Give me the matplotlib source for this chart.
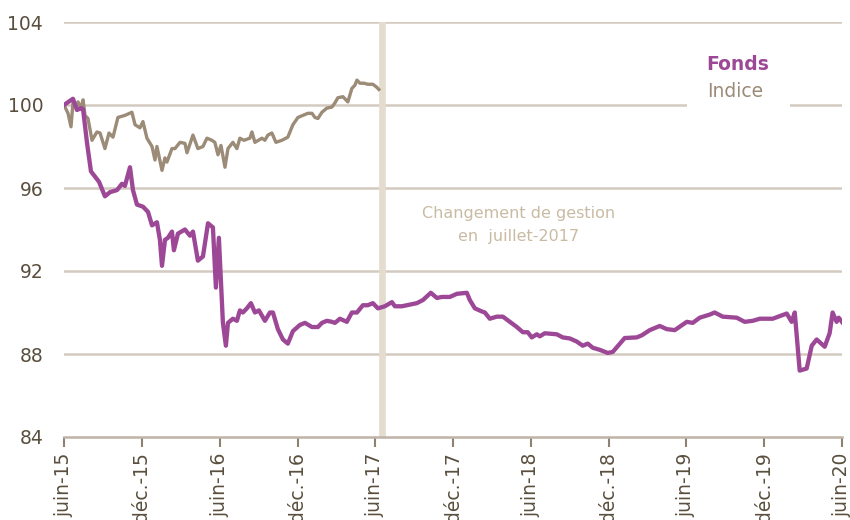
# Fonds vs Indice - base 100 juin 2015

import numpy as np
import matplotlib.pyplot as plt
import pandas as pd
from matplotlib.patches import Rectangle

# data - x in months since juin-15
fonds_m = [0.00, 0.69, 1.00, 1.31, 1.47, 1.77, 2.08, 2.70, 3.16, 3.55,
           4.09, 4.47, 4.70, 5.09, 5.32, 5.63, 6.09, 6.48, 6.79, 7.17,
           7.40, 7.56, 7.79, 8.02, 8.33, 8.48, 8.79, 9.33, 9.72, 9.95,
           10.33, 10.72, 11.11, 11.49, 11.72, 11.95, 12.26, 12.49, 12.65, 13.03,
           13.34, 13.57, 13.80, 14.11, 14.42, 14.73, 15.04, 15.50, 15.89, 16.12,
           16.50, 16.89, 17.27, 17.66, 18.20, 18.59, 19.13, 19.59, 19.90, 20.28,
           20.67, 20.90, 21.29, 21.82, 22.21, 22.60, 23.06, 23.44, 23.83, 24.22,
           24.75, 25.30, 25.53, 26.07, 26.45, 27.22, 27.69, 28.30, 28.77, 29.15,
           29.77, 30.31, 31.08, 31.31, 31.70, 32.24, 32.47, 32.85, 33.39, 33.86,
           34.40, 34.94, 35.40, 35.78, 36.09, 36.48, 36.71, 37.09, 38.02, 38.48,
           39.02, 39.56, 40.02, 40.41, 40.80, 41.34, 41.95, 42.34, 43.26, 44.19,
           44.58, 45.19, 45.96, 46.50, 47.12, 48.05, 48.51, 49.05, 49.82, 50.20,
           50.82, 51.90, 52.52, 53.14, 53.68, 54.68, 55.76, 56.14, 56.38, 56.76,
           57.30, 57.69, 58.07, 58.69, 59.07, 59.30, 59.61, 59.77, 60.08]
fonds = [100.0, 100.3, 99.76, 99.85, 99.8, 98.2, 96.8, 96.3, 95.6, 95.8,
         95.9, 96.2, 96.1, 97.0, 95.9, 95.2, 95.1, 94.85, 94.2, 94.35,
         93.5, 92.25, 93.5, 93.6, 93.9, 93.0, 93.8, 94.0, 93.7, 93.9,
         92.5, 92.7, 94.3, 94.1, 91.2, 93.6, 89.5, 88.4, 89.5, 89.7,
         89.6, 90.1, 90.0, 90.2, 90.45, 90.0, 90.1, 89.6, 90.0, 90.0,
         89.2, 88.7, 88.5, 89.1, 89.4, 89.5, 89.3, 89.3, 89.5, 89.6,
         89.55, 89.5, 89.7, 89.55, 90.0, 90.0, 90.35, 90.35, 90.45, 90.2,
         90.3, 90.5, 90.3, 90.3, 90.35, 90.45, 90.6, 90.95, 90.7, 90.75,
         90.75, 90.9, 90.95, 90.6, 90.2, 90.05, 90.0, 89.7, 89.8, 89.8,
         89.55, 89.3, 89.05, 89.05, 88.8, 88.95, 88.85, 89.0, 88.95, 88.8,
         88.75, 88.6, 88.4, 88.5, 88.3, 88.2, 88.05, 88.1, 88.77, 88.8,
         88.9, 89.15, 89.35, 89.2, 89.15, 89.55, 89.5, 89.75, 89.9, 90.0,
         89.8, 89.75, 89.55, 89.6, 89.7, 89.7, 89.95, 89.55, 90.0, 87.2,
         87.3, 88.4, 88.7, 88.35, 89.0, 90.0, 89.55, 89.75, 89.5]

indice_m = [0.00, 0.31, 0.54, 0.69, 1.00, 1.08, 1.31, 1.47, 1.62, 1.85,
            2.16, 2.54, 2.78, 3.16, 3.47, 3.78, 4.16, 4.70, 5.24, 5.48,
            5.86, 6.09, 6.40, 6.79, 7.02, 7.17, 7.56, 7.79, 7.94, 8.33,
            8.56, 8.95, 9.33, 9.49, 9.95, 10.33, 10.72, 11.03, 11.41, 11.64,
            11.88, 12.11, 12.42, 12.65, 13.03, 13.34, 13.57, 13.88, 14.34, 14.50,
            14.73, 15.27, 15.50, 15.73, 16.04, 16.35, 16.81, 17.27, 17.66, 18.05,
            18.43, 18.82, 19.13, 19.36, 19.59, 19.90, 20.28, 20.67, 20.90, 21.13,
            21.52, 21.90, 22.21, 22.44, 22.60, 22.83, 23.14, 23.44, 23.83, 24.14,
            24.29]
indice = [100.0, 99.6, 98.95, 100.1, 100.0, 100.15, 99.85, 100.25, 99.5, 99.35,
          98.3, 98.7, 98.65, 97.9, 98.65, 98.45, 99.4, 99.5, 99.65, 99.05,
          98.9, 99.2, 98.4, 98.0, 97.35, 98.0, 96.85, 97.45, 97.25, 97.9,
          97.9, 98.2, 98.15, 97.7, 98.55, 97.9, 98.0, 98.4, 98.3, 98.2,
          97.6, 98.05, 97.0, 97.9, 98.2, 97.9, 98.4, 98.3, 98.4, 98.7,
          98.2, 98.4, 98.3, 98.55, 98.65, 98.2, 98.3, 98.45, 99.05, 99.4,
          99.5, 99.6, 99.6, 99.4, 99.35, 99.65, 99.85, 99.9, 100.1, 100.35,
          100.4, 100.15, 100.8, 100.95, 101.2, 101.05, 101.05, 101.0, 101.0, 100.85,
          100.75]

change_m = 24.55   # changement de gestion
tick_dates = ['2015-06-01', '2015-12-01', '2016-06-01', '2016-12-01', '2017-06-01',
              '2017-12-01', '2018-06-01', '2018-12-01', '2019-06-01', '2019-12-01',
              '2020-06-01']
tick_labels = ['juin-15', 'déc.-15', 'juin-16', 'déc.-16', 'juin-17', 'déc.-17',
               'juin-18', 'déc.-18', 'juin-19', 'déc.-19', 'juin-20']

start = pd.Timestamp('2015-06-01')
def to_date(m):
    return start + pd.to_timedelta(np.array(m) * 30.4375, unit='D')

purple = '#9d4896'
tan = '#9b8b77'
grid = '#d3cbc0'
txt = '#5a4f3e'

fig = plt.figure(figsize=(8.5, 5.2), dpi=100)
ax = fig.add_axes([64/850, 1 - 437/520, 778/850, 415/520])

for v in [88, 92, 96, 100, 104]:
    ax.axhline(v, color=grid, lw=1.8, zorder=1)

ax.axvline(to_date([change_m])[0], color='#e4dccf', lw=4.8, zorder=2)

ax.plot(to_date(indice_m), indice, color=tan, lw=2.4, zorder=3)
ax.plot(to_date(fonds_m), fonds, color=purple, lw=3.1, zorder=4)

ax.set_ylim(84, 104)
ax.set_yticks([84, 88, 92, 96, 100, 104])
ax.set_xlim(pd.Timestamp(tick_dates[0]), pd.Timestamp(tick_dates[-1]))
ax.set_xticks(pd.to_datetime(tick_dates))
ax.set_xticklabels(tick_labels, rotation=90)

for s in ['left', 'right', 'top']:
    ax.spines[s].set_visible(False)
ax.spines['bottom'].set_color('#bdb3a6')
ax.spines['bottom'].set_linewidth(1.8)
ax.tick_params(axis='y', length=0, pad=15, labelsize=13.5, labelcolor=txt)
ax.tick_params(axis='x', length=7, width=1.5, color='#8d8272', pad=4,
               labelsize=13.5, labelcolor=txt)

# legend box (white patch hides the gridline)
ax.add_patch(Rectangle((0.801, 0.78), 0.132, 0.15, transform=ax.transAxes,
                       facecolor='white', edgecolor='none', zorder=5))
ax.text(0.826, 0.898, 'Fonds', transform=ax.transAxes, color=purple,
        fontsize=13.5, fontweight='bold', va='center', zorder=6)
ax.text(0.826, 0.832, 'Indice', transform=ax.transAxes, color=tan,
        fontsize=13.5, va='center', zorder=6)

ax.text(0.584, 0.51, 'Changement de gestion\nen  juillet-2017', transform=ax.transAxes,
        color='#c9bba3', fontsize=11.5, ha='center', va='center',
        linespacing=1.65, zorder=6)

plt.savefig('out.png', dpi=100)
